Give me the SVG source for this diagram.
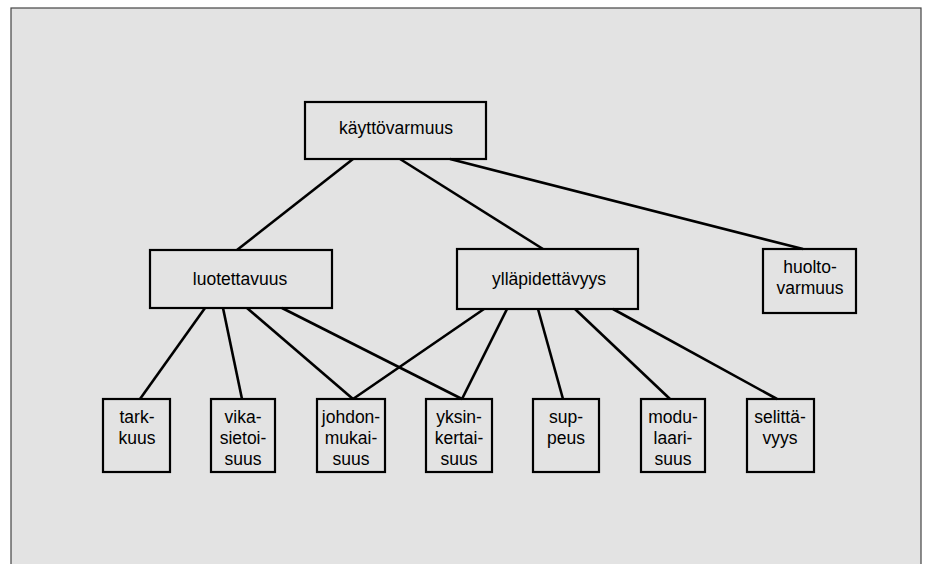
<svg xmlns="http://www.w3.org/2000/svg" width="936" height="564" viewBox="0 0 936 564">
<style>
.box{fill:none;stroke:#000;stroke-width:2.2}
.t{font-family:"Liberation Sans",Arial,sans-serif;font-size:17.5px;fill:#000;text-anchor:middle}
#connectors line{stroke:#000;stroke-width:2.6;stroke-linecap:butt}
</style>
<rect x="0" y="0" width="936" height="564" fill="#ffffff"/>
<rect x="11" y="8" width="910" height="560" fill="#e3e3e3" stroke="#444" stroke-width="1.2"/>
<g id="connectors">
<line x1="353" y1="159" x2="237" y2="250"/>
<line x1="400" y1="159" x2="543" y2="249"/>
<line x1="450" y1="159" x2="803" y2="249"/>
<line x1="205" y1="308" x2="140" y2="399"/>
<line x1="223" y1="308" x2="242" y2="399"/>
<line x1="247" y1="308" x2="353" y2="399"/>
<line x1="282" y1="308" x2="462" y2="399"/>
<line x1="484" y1="309" x2="353" y2="399"/>
<line x1="507" y1="309" x2="462" y2="399"/>
<line x1="538" y1="309" x2="563" y2="399"/>
<line x1="575" y1="309" x2="670" y2="399"/>
<line x1="613" y1="309" x2="777" y2="399"/>
</g>
<g id="kayttovarmuus"><rect class="box" x="305" y="102" width="181" height="57"/><text class="t" x="396" y="134">käyttövarmuus</text></g>
<g id="luotettavuus"><rect class="box" x="150" y="250" width="182" height="58"/><text class="t" x="240" y="285">luotettavuus</text></g>
<g id="yllapidettavyys"><rect class="box" x="457" y="249" width="181" height="60"/><text class="t" x="549" y="285">ylläpidettävyys</text></g>
<g id="huoltovarmuus"><rect class="box" x="763" y="249" width="93" height="64"/><text class="t" x="810" y="273">huolto-</text><text class="t" x="810" y="294">varmuus</text></g>
<g id="tarkkuus"><rect class="box" x="103" y="399" width="67" height="73"/><text class="t" x="137" y="423">tark-</text><text class="t" x="137" y="444">kuus</text></g>
<g id="vikasietoisuus"><rect class="box" x="211" y="399" width="64" height="73"/><text class="t" x="243" y="423">vika-</text><text class="t" x="243" y="444">sietoi-</text><text class="t" x="243" y="465">suus</text></g>
<g id="johdonmukaisuus"><rect class="box" x="317" y="399" width="68" height="73"/><text class="t" x="351" y="423">johdon-</text><text class="t" x="351" y="444">mukai-</text><text class="t" x="351" y="465">suus</text></g>
<g id="yksinkertaisuus"><rect class="box" x="426" y="399" width="66" height="73"/><text class="t" x="459" y="423">yksin-</text><text class="t" x="459" y="444">kertai-</text><text class="t" x="459" y="465">suus</text></g>
<g id="suppeus"><rect class="box" x="533" y="399" width="66" height="73"/><text class="t" x="566" y="423">sup-</text><text class="t" x="566" y="444">peus</text></g>
<g id="modulaarisuus"><rect class="box" x="641" y="399" width="64" height="73"/><text class="t" x="673" y="423">modu-</text><text class="t" x="673" y="444">laari-</text><text class="t" x="673" y="465">suus</text></g>
<g id="selittavyys"><rect class="box" x="747" y="399" width="67" height="73"/><text class="t" x="780" y="423">selittä-</text><text class="t" x="780" y="444">vyys</text></g>
</svg>
